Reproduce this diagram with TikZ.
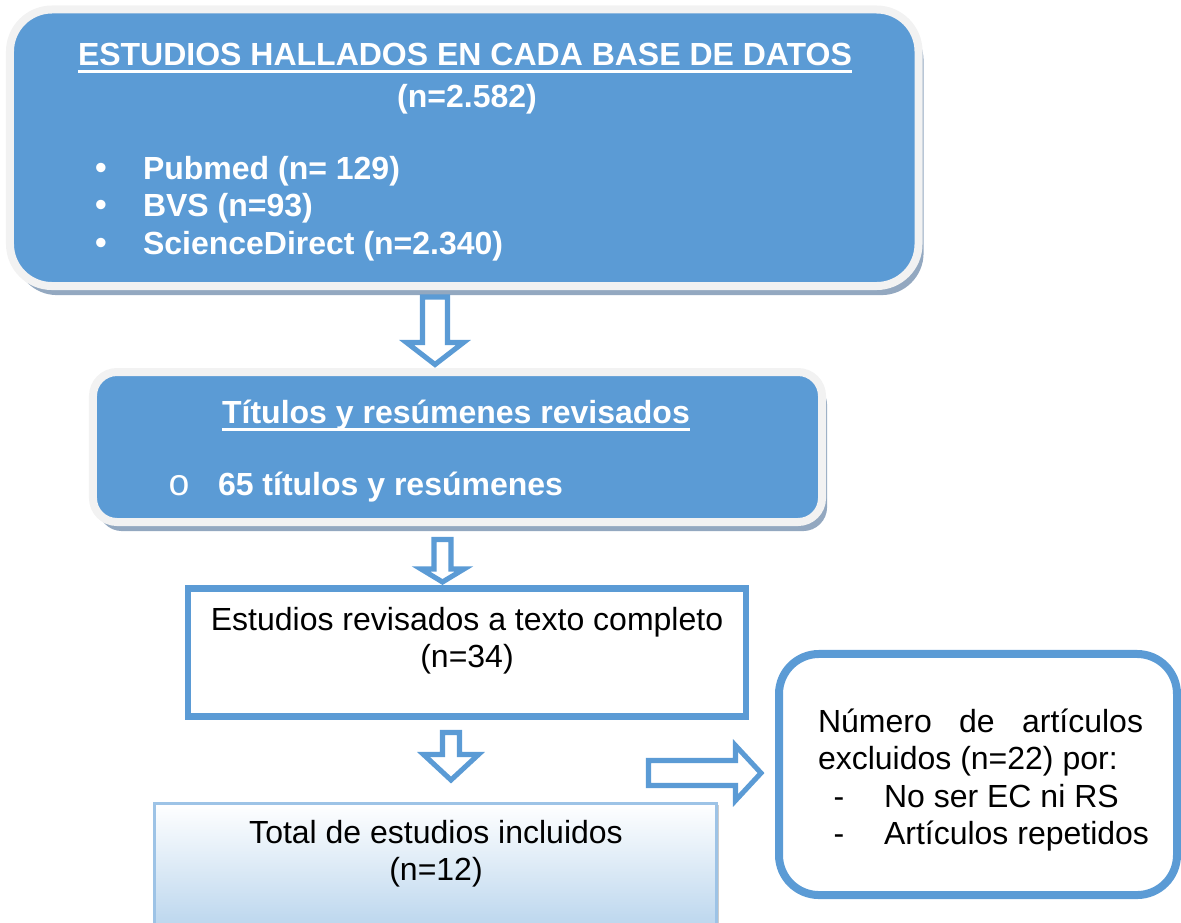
\documentclass[tikz,border=0pt]{standalone}
\usepackage{fontspec}
\setmainfont{Liberation Sans}
\newfontfamily\courierfont{Liberation Mono}
\usetikzlibrary{shadows}

\definecolor{boxblue}{HTML}{5B9BD5}
\definecolor{rimgrey}{HTML}{F2F2F2}
\definecolor{shadowc}{HTML}{93A8C0}
\definecolor{paleblue}{HTML}{BDD7EE}
\definecolor{edgeblue}{HTML}{9DC3E6}

% hollow block arrows: start, length, shaft width, head width, head length
\newcommand{\downblock}[5]{%
  \draw[hollow] (#1) ++(-#3/2,0) -- ++(#3,0) -- ++(0,#2-#5) -- ++(#4/2-#3/2,0)
    -- ++(-#4/2,#5) -- ++(-#4/2,-#5) -- ++(#4/2-#3/2,0) -- cycle;}
\newcommand{\rightblock}[5]{%
  \draw[hollow] (#1) ++(0,-#3/2) -- ++(#2-#5,0) -- ++(0,-#4/2+#3/2)
    -- ++(#5,#4/2) -- ++(-#5,#4/2) -- ++(0,-#4/2+#3/2) -- ++(-#2+#5,0) -- cycle;}

\tikzset{
  bluebox/.style={draw=rimgrey, fill=boxblue, line width=3pt,
    drop shadow={shadow xshift=1.9pt, shadow yshift=-3.4pt, fill=shadowc, opacity=1}},
  framebox/.style={draw=boxblue, line width=2.4pt},
  roundbox/.style={draw=boxblue, line width=3pt, rounded corners=15pt},
  fadebox/.style={draw=edgeblue, line width=0.9pt, top color=white, bottom color=paleblue,
    drop shadow={shadow xshift=0.8pt, shadow yshift=-0.4pt, fill=black!20, opacity=1}},
  hollow/.style={draw=boxblue, fill=white, line width=1.9pt, line join=miter},
  underl/.style={draw=white, line width=1.1pt},
  wtxt/.style={text=white, font=\fontsize{12}{14}\selectfont\bfseries, anchor=base},
  wleft/.style={wtxt, anchor=base west},
  btxt/.style={text=black, anchor=base},
  bleft/.style={btxt, anchor=base west}
}

\begin{document}
\begin{tikzpicture}[x=0.375pt, y=-0.375pt,
    every node/.style={font=\fontsize{12}{14}\selectfont, inner sep=0pt, outer sep=0pt}]
    \clip (0,0) rectangle (1181,922);

    % boxes
    \node[bluebox, rounded corners=15.75pt, minimum width=340.7pt, minimum height=103.7pt]
        (box_1) at (464.25,147.75) {};
    \node[bluebox, rounded corners=9pt, minimum width=273.4pt, minimum height=56.25pt]
        (box_2) at (457.5,447) {};
    \node[framebox, minimum width=209.25pt, minimum height=48pt] (box_3) at (467,652.5) {};
    \node[fadebox, minimum width=210.75pt, minimum height=45.2pt] (box_4) at (435.5,863.75) {};
    \node[roundbox, minimum width=149.25pt, minimum height=90.4pt] (box_5) at (978,774.5) {};

    % box 1
    \node[wtxt] (b1_title) at (465,65) {ESTUDIOS HALLADOS EN CADA BASE DE DATOS};
    \draw[underl] ([yshift=-2.3pt]b1_title.base west) -- ([yshift=-2.3pt]b1_title.base east);
    \node[wtxt] (b1_n) at (467,107) {(n=2.582)};
    \foreach \y/\txt [count=\i] in {179/Pubmed (n= 129), 216.5/BVS (n=93), 254/ScienceDirect (n=2.340)} {
        \node[wtxt, font=\fontsize{13}{14}\selectfont] (b1_dot_\i) at (101,\y) {\textbullet};
        \node[wleft] (b1_item_\i) at (143,\y) {\txt};
    }

    % box 2
    \node[wtxt] (b2_title) at (456,423) {Títulos y resúmenes revisados};
    \draw[underl] ([yshift=-2.3pt]b2_title.base west) -- ([yshift=-2.3pt]b2_title.base east);
    \node[text=white, anchor=base, font=\fontsize{14}{14}\selectfont] (b2_dot) at (179,495) {\courierfont o};
    \node[wleft] (b2_item) at (218,495) {65 títulos y resúmenes};

    % box 3
    \node[btxt] (b3_l1) at (467,630) {Estudios revisados a texto completo};
    \node[btxt] (b3_l2) at (467,667.5) {(n=34)};

    % box 4
    \node[btxt] (b4_l1) at (436,843) {Total de estudios incluidos};
    \node[btxt] (b4_l2) at (436,880.5) {(n=12)};

    % box 5
    \node[bleft] (b5_l1) at (818,732) {\makebox[121.9pt][s]{Número de artículos}};
    \node[bleft] (b5_l2) at (818,769.5) {excluidos (n=22) por:};
    \foreach \y/\txt [count=\i] in {807/No ser EC ni RS, 844.5/Artículos repetidos} {
        \node[btxt] (b5_dash_\i) at (839,\y) {-};
        \node[bleft] (b5_item_\i) at (884,\y) {\txt};
    }

    % arrows
    \coordinate (arr_1) at (435,297);
    \coordinate (arr_2) at (442.5,539.5);
    \coordinate (arr_3) at (451,732.5);
    \coordinate (arr_4) at (648.5,773);
    \downblock{arr_1}{67.5}{25}{57}{22}
    \downblock{arr_2}{42.5}{17}{43}{13}
    \downblock{arr_3}{47.5}{17}{55}{25.5}
    \rightblock{arr_4}{112.5}{25}{55}{25.5}
\end{tikzpicture}
\end{document}
